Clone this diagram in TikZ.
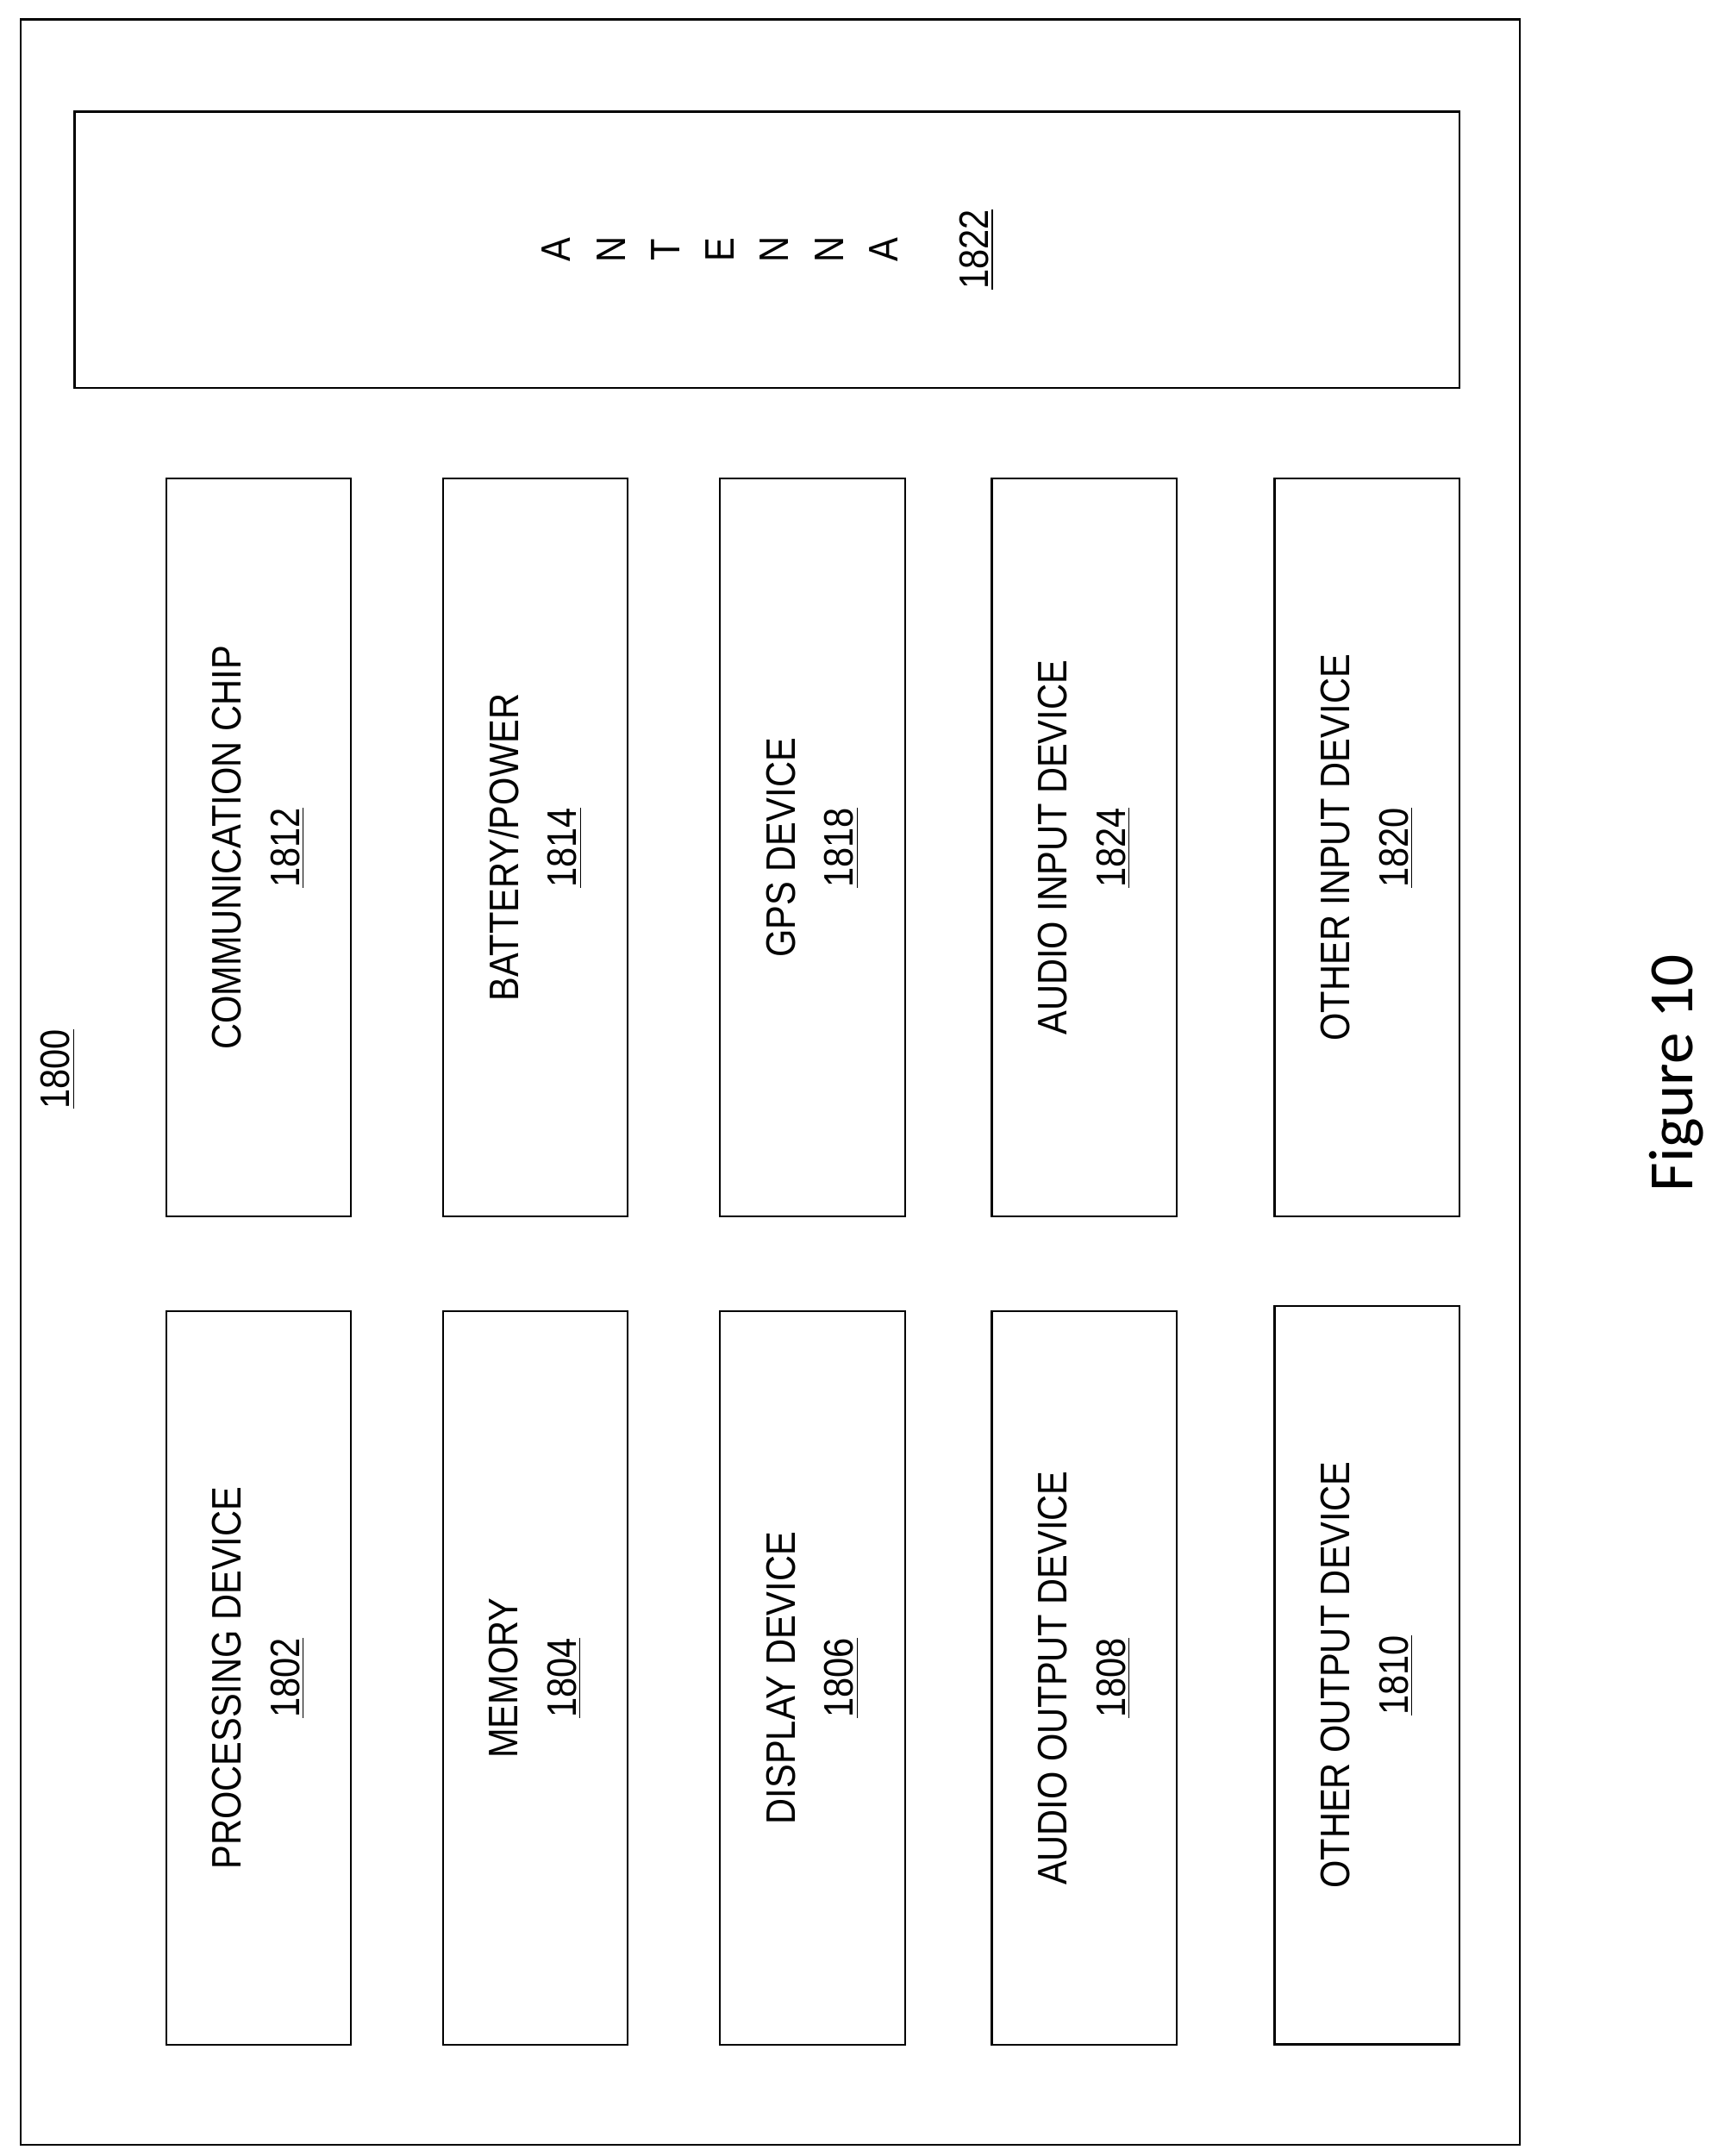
\documentclass[tikz,border=0pt]{standalone}
\usepackage{fontspec}
\setmainfont{Liberation Sans}
\newfontfamily\narrowsans[FakeStretch=0.87]{Liberation Sans}
\newfontfamily\capfont{Carlito}
\begin{document}
\begin{tikzpicture}[x=0.2mm,y=-0.2mm,thick,
    unit/.style={draw,rotate=90,align=center,minimum width=107mm,minimum height=26.8mm,
      font=\narrowsans\fontsize{17}{24}\selectfont},
    lowunit/.style={unit,minimum width=106.4mm}]
  \useasboundingbox (0,0) rectangle (1250,1563);
  \draw (15,14) rectangle (1102,1555);
  \node[rotate=90,font=\narrowsans\fontsize{17}{24}\selectfont] (sys) at (42,775) {\underline{1800}};
  % antenna
  \draw (54,81) rectangle (1058,281);
  \node[rotate=90,align=center,font=\narrowsans\fontsize{17}{22.5}\selectfont] (ant) at (522,181)
    {A\\N\\T\\E\\N\\N\\A};
  \node[rotate=90,font=\narrowsans\fontsize{17}{24}\selectfont] (antnum) at (708,181) {\underline{1822}};
  % upper row
  \node[unit] (comm) at (187.5,614.5) {COMMUNICATION CHIP\\\underline{1812}};
  \node[unit] (batt) at (388,614.5) {BATTERY/POWER\\\underline{1814}};
  \node[unit] (gps) at (589,614.5) {GPS DEVICE\\\underline{1818}};
  \node[unit] (ain) at (786,614.5) {AUDIO INPUT DEVICE\\\underline{1824}};
  \node[unit] (oin) at (991,614.5) {OTHER INPUT DEVICE\\\underline{1820}};
  % lower row
  \node[lowunit] (proc) at (187.5,1216.5) {PROCESSING DEVICE\\\underline{1802}};
  \node[lowunit] (mem) at (388,1216.5) {MEMORY\\\underline{1804}};
  \node[lowunit] (disp) at (589,1216.5) {DISPLAY DEVICE\\\underline{1806}};
  \node[lowunit] (aout) at (786,1216.5) {AUDIO OUTPUT DEVICE\\\underline{1808}};
  \node[lowunit,minimum width=107mm] (oout) at (991,1214.5) {OTHER OUTPUT DEVICE\\\underline{1810}};
  \node[rotate=90,font=\capfont\fontsize{26}{32}\selectfont] (fig) at (1215,778) {Figure 10};
\end{tikzpicture}
\end{document}
